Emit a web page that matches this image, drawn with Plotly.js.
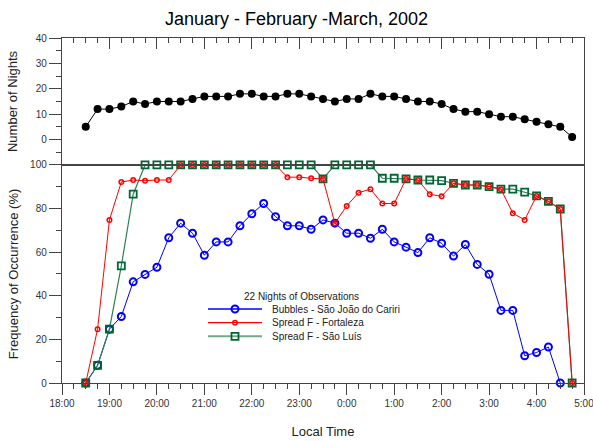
<!DOCTYPE html>
<html>
<head>
<meta charset="utf-8">
<script src="https://cdn.plot.ly/plotly-3.0.1.min.js"></script>
<style>html,body{margin:0;padding:0;background:#fff;}#chart{width:593px;height:441px;}</style>
</head>
<body>
<div id="chart"></div>
<script>
// Local time labels (every 15 min, 18:30 .. 4:45)
const times = ["18:30","18:45","19:00","19:15","19:30","19:45","20:00","20:15","20:30","20:45",
  "21:00","21:15","21:30","21:45","22:00","22:15","22:30","22:45","23:00","23:15",
  "23:30","23:45","0:00","0:15","0:30","0:45","1:00","1:15","1:30","1:45",
  "2:00","2:15","2:30","2:45","3:00","3:15","3:30","3:45","4:00","4:15","4:30","4:45"];

// Number of nights (top panel)
const nights = [5,12,12,13,15,14,15,15,15,16,17,17,17,18,18,17,17,18,18,17,
  16,15,16,16,18,17,17,16,15,15,14,12,11,11,10,9,9,8,7,6,5,1];

// Bubbles - São João do Cariri (18:30 .. 4:30)
const bubbles = [0,8.1,24.7,30.5,46.4,49.8,53.1,66.6,73.3,68.7,
  58.6,64.7,64.7,72.1,77.6,82.3,76.3,72.1,72.1,70.5,
  74.8,73.3,68.7,68.7,66.4,70.5,64.7,62.3,59.8,66.6,
  64.1,58.2,63.5,54.4,49.9,33.3,33.3,12.5,14.0,16.5,0];

// Spread F - Fortaleza
const fortaleza = [0,24.7,74.8,92.2,93.1,92.8,93.1,93.1,100,100,
  100,100,100,100,100,100,100,94.4,94.4,93.9,
  93.6,73.3,81.2,87.3,88.9,82.3,82.3,93.6,93.1,86.6,
  85.6,91.6,90.8,90.8,90.1,88.9,77.9,74.8,85.8,83.3,79.8,0];

// Spread F - São Luís
const saoluis = [0,8.1,24.7,53.7,86.6,100,100,100,100,100,
  100,100,100,100,100,100,100,100,100,100,
  93.6,100,100,100,100,93.9,93.9,93.6,93.1,93.1,
  92.8,91.6,90.8,90.8,90.1,88.9,88.9,87.5,85.8,83.3,79.8,0];

// x tick labels
const tickHours = [18,19,20,21,22,23,24,25,26,27,28,29];
const tickLabels = ["18:00","19:00","20:00","21:00","22:00","23:00","0:00","1:00","2:00","3:00","4:00","5:00"];

// legend text
const legendTitle = "22 Nights of Observations";
const seriesNames = ["Bubbles - São João do Cariri", "Spread F - Fortaleza", "Spread F - São Luís"];

function toHours(t){
  const p = t.split(":");
  let h = parseInt(p[0],10);
  if (h < 18) h += 24;
  return h + parseInt(p[1],10)/60;
}
const xh = times.map(toHours);

const FONT = "Liberation Sans, Arial, Helvetica, sans-serif";
const axisCol = "#444";
const tickFont = {family: FONT, size: 10, color: "#333"};

// series styles (blue, red, green)
const styles = [
  {line: {color: "#0000ff", width: 1}, legLine: "#0000ff",
   marker: {symbol: "circle-open", size: 7, color: "#0000ff", line: {width: 2}}},
  {line: {color: "#ff0000", width: 1}, legLine: "#ff0000",
   marker: {symbol: "circle-open", size: 4.5, color: "#ff0000", line: {width: 1.5}}},
  {line: {color: "#2f7f55", width: 1.2}, legLine: "#73a88c",
   marker: {symbol: "square-open", size: 7, color: "#006633", line: {width: 1.8}}}
];

const traces = [
  {x: xh, y: nights, xaxis: "x2", yaxis: "y2", mode: "lines+markers", showlegend: false,
   line: {color: "#000", width: 1}, marker: {color: "#000", size: 8, symbol: "circle"}, cliponaxis: false},
  {x: xh.slice(0, bubbles.length), y: bubbles, mode: "lines+markers", name: seriesNames[0], showlegend: false,
   line: styles[0].line, marker: styles[0].marker, cliponaxis: false},
  {x: xh, y: saoluis, mode: "lines+markers", name: seriesNames[2], showlegend: false,
   line: styles[2].line, marker: styles[2].marker, cliponaxis: false},
  {x: xh, y: fortaleza, mode: "lines+markers", name: seriesNames[1], showlegend: false,
   line: styles[1].line, marker: styles[1].marker, cliponaxis: false}
];

// Legend box drawn on an invisible overlay axis measured in pixels
const legX0 = 208, legX1 = 262, legTextX = 270, legTitleY = 296.5, legRowY = [309, 322.7, 336.3];
const annotations = [
  {xref: "x3", yref: "y3", x: 301, y: legTitleY, text: legendTitle, showarrow: false,
   xanchor: "center", yanchor: "middle", font: {family: FONT, size: 10, color: "#222"}}
];
seriesNames.forEach((nm, i) => {
  traces.push({x: [legX0, legX1], y: [legRowY[i], legRowY[i]], xaxis: "x3", yaxis: "y3", mode: "lines",
    showlegend: false, hoverinfo: "skip", line: {color: styles[i].legLine, width: i === 2 ? 2 : 1.3}});
  traces.push({x: [(legX0 + legX1) / 2], y: [legRowY[i]], xaxis: "x3", yaxis: "y3", mode: "markers",
    showlegend: false, hoverinfo: "skip", marker: styles[i].marker});
  annotations.push({xref: "x3", yref: "y3", x: legTextX, y: legRowY[i], text: nm, showarrow: false,
    xanchor: "left", yanchor: "middle", font: {family: FONT, size: 10, color: "#222"}});
});

const xCommon = {
  range: [18, 29], tickmode: "array", tickvals: tickHours, ticktext: tickLabels,
  showline: true, linecolor: axisCol, linewidth: 1.2, mirror: true, zeroline: false, showgrid: false,
  tickcolor: axisCol, ticklen: 11, tickwidth: 1, ticklabeloverflow: "allow",
  tickfont: tickFont
};

const layout = {
  width: 593, height: 441,
  margin: {l: 62, r: 9, t: 38, b: 58},
  paper_bgcolor: "#fff", plot_bgcolor: "rgba(0,0,0,0)",
  font: {family: FONT, color: "#222"},
  title: {text: "January - February -March, 2002", x: 0.5, xanchor: "center", y: 0.958, yanchor: "middle",
          font: {family: FONT, size: 18, color: "#000"}},
  xaxis: Object.assign({}, xCommon, {
    anchor: "y", ticks: "outside",
    minor: {tickmode: "linear", tick0: 18, dtick: 0.25, ticks: "outside", ticklen: 5, tickcolor: axisCol},
    title: {text: "Local Time", font: {family: FONT, size: 13, color: "#222"}, standoff: 18}
  }),
  xaxis2: Object.assign({}, xCommon, {
    anchor: "y2", matches: "x", side: "top", ticks: "inside", showticklabels: false,
    minor: {tickmode: "linear", tick0: 18, dtick: 0.25, ticks: "inside", ticklen: 5, tickcolor: axisCol}
  }),
  yaxis: {
    domain: [0, 0.632], range: [0, 100], tickmode: "array", tickvals: [0,20,40,60,80,100],
    showline: true, linecolor: axisCol, linewidth: 1.2, mirror: true, zeroline: false, showgrid: false,
    ticks: "outside", ticklen: 12, tickcolor: axisCol,
    minor: {tickmode: "linear", tick0: 0, dtick: 10, ticks: "outside", ticklen: 5, tickcolor: axisCol},
    tickfont: tickFont,
    title: {text: "Frequency of Occurrence (%)", font: {family: FONT, size: 13, color: "#222"}, standoff: 8}
  },
  yaxis2: {
    domain: [0.632, 1], range: [-10, 40], tickmode: "array", tickvals: [0,10,20,30,40],
    showline: true, linecolor: axisCol, linewidth: 1.2, mirror: true, zeroline: false, showgrid: false,
    ticks: "outside", ticklen: 12, tickcolor: axisCol,
    minor: {tickmode: "linear", tick0: 0, dtick: 5, ticks: "outside", ticklen: 5, tickcolor: axisCol},
    tickfont: tickFont,
    title: {text: "Number of Nights", font: {family: FONT, size: 13, color: "#222"}, standoff: 15}
  },
  xaxis3: {domain: [0, 1], range: [62, 584], anchor: "y3", visible: false, fixedrange: true},
  yaxis3: {domain: [0, 1], range: [383, 38], anchor: "x3", visible: false, fixedrange: true},
  annotations: annotations,
  showlegend: false
};

Plotly.newPlot("chart", traces, layout, {displayModeBar: false, staticPlot: true}).then(function(gd){
  // If the last hour label was dropped for touching the page edge, put it back under its tick.
  const shown = Array.from(gd.querySelectorAll(".xaxislayer-above .xtick text, .xtick text"))
    .map(function(t){ return t.textContent; });
  const lastIdx = tickLabels.length - 1;
  if (shown.indexOf(tickLabels[lastIdx]) === -1) {
    const ann = annotations.slice();
    ann.push({xref: "x", yref: "paper", x: tickHours[lastIdx], y: 0, yanchor: "top", xanchor: "center",
      yshift: -15, text: tickLabels[lastIdx], showarrow: false, font: tickFont});
    Plotly.relayout(gd, {annotations: ann});
  }
});
</script>
</body>
</html>
